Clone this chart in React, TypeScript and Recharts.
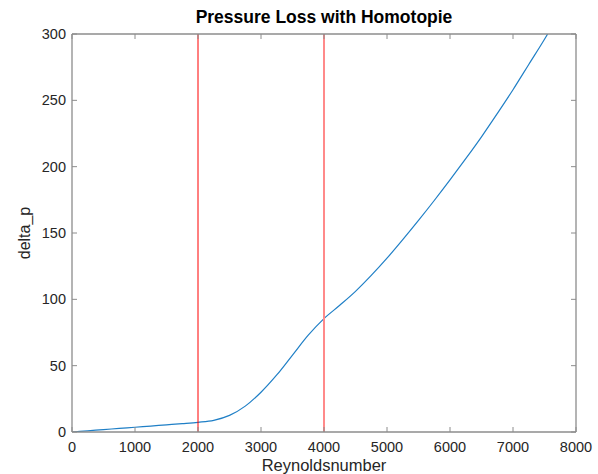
import { LineChart, Line, XAxis, YAxis, ReferenceLine } from "recharts";

// Reynolds number samples and the pressure loss
const reynolds = [
  0, 250, 500, 750, 1000, 1250, 1500, 1750, 2000, 2250, 2500, 2750, 3000, 3250, 3500, 3750,
  4000, 4250, 4500, 4750, 5000, 5250, 5500, 5750, 6000, 6250, 6500, 6750, 7000, 7250, 7500, 7550,
];
const deltaP = [
  0, 0.9, 1.8, 2.7, 3.6, 4.5, 5.4, 6.3, 7.3, 8.8, 12.5, 19.5, 30, 43, 58, 73,
  85.5, 95.5, 106, 118, 131, 145, 159.5, 174.5, 190, 206, 222.5, 240, 258, 277, 296, 300,
];
const xTicks = [0, 1000, 2000, 3000, 4000, 5000, 6000, 7000, 8000];
const yTicks = [0, 50, 100, 150, 200, 250, 300];
const laminarLimit = 2000;
const turbulentLimit = 4000;

const data = reynolds.map((re, i) => ({ re, dp: deltaP[i] }));

const W = 598;
const H = 474;
const MARGIN = { top: 34, right: 22, left: 0, bottom: 0 };
const Y_AXIS_W = 72;
const X_AXIS_H = 42;
const PLOT_W = W - MARGIN.right - Y_AXIS_W;
const PLOT_H = H - MARGIN.top - X_AXIS_H;

const FONT = "'Liberation Sans', Arial, Helvetica, sans-serif";
const AXIS = "#8c8c8c";
const TEXT = "#262626";
const TICK_LEN = 5;

/* eslint-disable @typescript-eslint/no-explicit-any */

// MATLAB style: tick marks point into the box on both sides, labels outside
function BottomTick(props: any) {
  const { x, y, payload } = props;
  return (
    <g>
      <line x1={x} x2={x} y1={y} y2={y - TICK_LEN} stroke={AXIS} strokeWidth={1} />
      <line x1={x} x2={x} y1={y - PLOT_H} y2={y - PLOT_H + TICK_LEN} stroke={AXIS} strokeWidth={1} />
      <text x={x} y={y + 20} textAnchor="middle" fill={TEXT} fontSize={14.5} fontFamily={FONT}>
        {payload.value}
      </text>
    </g>
  );
}

function LeftTick(props: any) {
  const { x, y, payload } = props;
  return (
    <g>
      <line x1={x} x2={x + TICK_LEN} y1={y} y2={y} stroke={AXIS} strokeWidth={1} />
      <line x1={x + PLOT_W} x2={x + PLOT_W - TICK_LEN} y1={y} y2={y} stroke={AXIS} strokeWidth={1} />
      <text x={x - 6} y={y} dy="0.35em" textAnchor="end" fill={TEXT} fontSize={14.5} fontFamily={FONT}>
        {payload.value}
      </text>
    </g>
  );
}

/* eslint-enable @typescript-eslint/no-explicit-any */

export default function App() {
  const plotCx = Y_AXIS_W + PLOT_W / 2;
  const plotCy = MARGIN.top + PLOT_H / 2;
  return (
    <div style={{ position: "absolute", left: 0, top: 0, width: W, height: H, background: "#fff" }}>
      <LineChart width={W} height={H} data={data} margin={MARGIN}>
        <XAxis
          dataKey="re"
          type="number"
          domain={[0, 8000]}
          ticks={xTicks}
          allowDataOverflow
          height={X_AXIS_H}
          tickSize={0}
          tickMargin={0}
          tickLine={false}
          axisLine={false}
          tick={<BottomTick />}
          interval={0}
        />
        <YAxis
          type="number"
          domain={[0, 300]}
          ticks={yTicks}
          allowDataOverflow
          width={Y_AXIS_W}
          tickSize={0}
          tickMargin={0}
          tickLine={false}
          axisLine={false}
          tick={<LeftTick />}
          interval={0}
        />
        <Line
          type="monotone"
          dataKey="dp"
          stroke="#1f7fc6"
          strokeWidth={1.2}
          dot={false}
          activeDot={false}
          isAnimationActive={false}
        />
        <ReferenceLine x={laminarLimit} stroke="#ff0000" strokeWidth={1} />
        <ReferenceLine x={turbulentLimit} stroke="#ff8a8a" strokeWidth={2} />
        {/* axes box */}
        <ReferenceLine x={0} stroke={AXIS} strokeWidth={1.3} />
        <ReferenceLine x={8000} stroke={AXIS} strokeWidth={1.3} />
        <ReferenceLine y={0} stroke={AXIS} strokeWidth={1.3} />
        <ReferenceLine y={300} stroke={AXIS} strokeWidth={1.3} />
      </LineChart>
      <svg
        width={W}
        height={H}
        style={{ position: "absolute", left: 0, top: 0, pointerEvents: "none" }}
        fontFamily={FONT}
      >
        <text x={plotCx} y={23} textAnchor="middle" fontSize={17.5} fontWeight="bold" fill="#000">
          Pressure Loss with Homotopie
        </text>
        <text x={plotCx} y={470.5} textAnchor="middle" fontSize={16.5} fill={TEXT}>
          Reynoldsnumber
        </text>
        <text
          x={30}
          y={plotCy}
          textAnchor="middle"
          fontSize={16}
          fill={TEXT}
          transform={`rotate(-90, 30, ${plotCy})`}
        >
          delta_p
        </text>
      </svg>
    </div>
  );
}
